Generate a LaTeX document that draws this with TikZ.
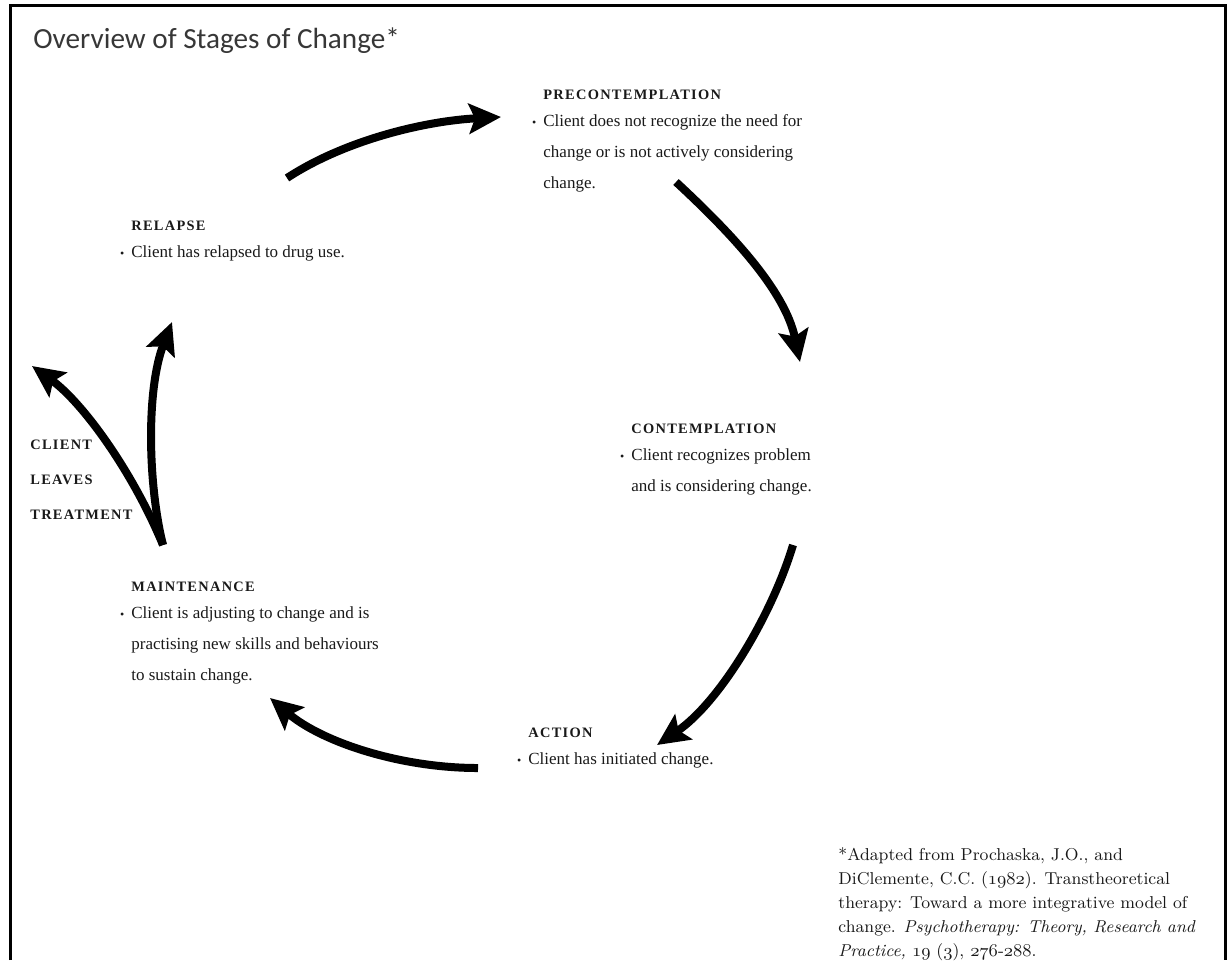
\documentclass[tikz,border=0pt]{standalone}
\usepackage{fontspec}
\setmainfont{Liberation Serif}
\newfontfamily\titlefam{Carlito}
\newfontfamily\capsfam[LetterSpace=9]{Liberation Serif}
\newfontfamily\notefam{Latin Modern Roman}
\usetikzlibrary{arrows.meta}
\definecolor{ink}{RGB}{25,25,25}
\definecolor{titlegray}{RGB}{55,55,55}
\newcommand{\headfont}{\capsfam\bfseries\fontsize{7.2pt}{15.5pt}\selectfont}
\newcommand{\bodyfont}{\fontsize{8.5pt}{15.5pt}\selectfont}
\newcommand{\bul}{\makebox[0pt][r]{\fontsize{6pt}{6pt}\selectfont\textbullet\hspace{3.5pt}}}
\newcommand{\osf}[1]{$\mathnormal{#1}$}

\begin{document}
\begin{tikzpicture}[x=0.5pt,y=-0.5pt,
  stage/.style={anchor=north west,inner sep=0pt,align=left,font=\bodyfont,text=ink},
  cyc/.style={line width=4pt,-{Stealth[length=16pt,width=15pt,inset=3pt]}}]
\useasboundingbox (0,0) rectangle (1230,960);
% frame, open at the bottom
\draw[line width=1.5pt] (10.5,960) -- (10.5,5.5) -- (1225.5,5.5) -- (1225.5,960);
\node[anchor=base west,inner sep=0pt,font=\titlefam\fontsize{14.6pt}{18pt}\selectfont,text=titlegray] (title) at (33,48) {Overview of Stages of Change*};
% the five stages
\node[stage] (pre) at (543,90) {{\headfont PRECONTEMPLATION}\\[-2pt]
  \bul Client does not recognize the need for\\
  change or is not actively considering\\
  change.};
\node[stage] (con) at (631,424) {{\headfont CONTEMPLATION}\\[-2pt]
  \bul Client recognizes problem\\
  and is considering change.};
\node[stage] (act) at (528,728) {{\headfont ACTION}\\[-2pt]
  \bul Client has initiated change.};
\node[stage] (mnt) at (131,582) {{\headfont MAINTENANCE}\\[-2pt]
  \bul Client is adjusting to change and is\\
  practising new skills and behaviours\\
  to sustain change.};
\node[stage] (rel) at (131,221) {{\headfont RELAPSE}\\[-2pt]
  \bul Client has relapsed to drug use.};
\node[anchor=north west,inner sep=0pt,align=left,text=ink,
  font=\capsfam\bfseries\fontsize{7.2pt}{17.5pt}\selectfont] (leave) at (30,440) {CLIENT\\LEAVES\\TREATMENT};
% cycle arrows
\coordinate (relout) at (287,178);
\coordinate (prein) at (501,117);
\coordinate (preout) at (676,182);
\coordinate (conin) at (800,362);
\coordinate (conout) at (793,545);
\coordinate (actin) at (657,745);
\coordinate (actout) at (478,768);
\coordinate (mntin) at (270,698);
\coordinate (mntout) at (163,545);
\coordinate (relin) at (172,322);
\coordinate (exit) at (32,366);
\draw[cyc] (relout) .. controls (345,140) and (425,121) .. (prein);
\draw[cyc] (preout) .. controls (730,232) and (785,290) .. (conin);
\draw[cyc] (conout) .. controls (772,615) and (720,702) .. (actin);
\draw[cyc] (actout) .. controls (400,768) and (322,742) .. (mntin);
\draw[cyc] (mntout) .. controls (148,485) and (146,390) .. (relin);
\draw[cyc] (mntout) .. controls (132,470) and (82,402) .. (exit);
% source
\node[anchor=north west,inner sep=0pt,align=left,text=ink,
  font=\notefam\fontsize{8.6pt}{12pt}\selectfont] (note) at (838,847) {*Adapted from Prochaska, J.O., and\\
DiClemente, C.C. (\osf{1982}). Transtheoretical\\
therapy: Toward a more integrative model of\\
change. \textit{Psychotherapy: Theory, Research and}\\
\textit{Practice,} \osf{19} (\osf{3}), \osf{276}-\osf{288}.};
\end{tikzpicture}
\end{document}
